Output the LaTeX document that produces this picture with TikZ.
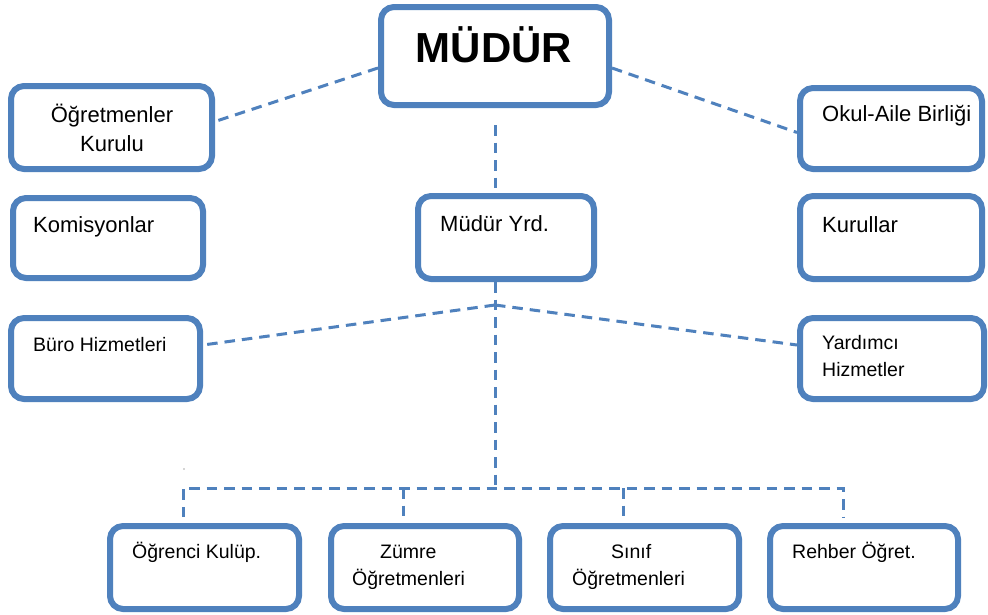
\documentclass[tikz,border=0pt]{standalone}
\usepackage{fontspec}
\setmainfont{Liberation Sans}
\usetikzlibrary{calc}
\definecolor{boxblue}{RGB}{79,129,189}
\begin{document}
\begin{tikzpicture}[x=1pt,y=-1pt,
  box/.style={draw=boxblue, line width=6pt, rounded corners=13pt, fill=white, inner sep=0pt, shape=rectangle},
  conn/.style={draw=boxblue, line width=3pt, dash pattern=on 10.5pt off 7pt},
  big/.style={font=\fontsize{22}{29}\selectfont, inner sep=0pt},
  small/.style={font=\fontsize{19.5}{27}\selectfont, inner sep=0pt}]
\useasboundingbox (0,0) rectangle (988,614);
\fill[white] (0,0) rectangle (988,614);

% boxes
\node[box, minimum width=228, minimum height=98] (mudur) at (495,56) {};
\node[box, minimum width=201, minimum height=83] (ogk) at (111.5,127.5) {};
\node[box, minimum width=182, minimum height=81] (oab) at (891,128.5) {};
\node[box, minimum width=190, minimum height=80] (kom) at (108,238) {};
\node[box, minimum width=176, minimum height=83] (myrd) at (506,237.5) {};
\node[box, minimum width=182, minimum height=83] (kur) at (891,237.5) {};
\node[box, minimum width=189, minimum height=81] (buro) at (105.5,358.5) {};
\node[box, minimum width=184, minimum height=81] (yard) at (892,358.5) {};
\node[box, minimum width=189, minimum height=83] (ogr) at (204.5,567.5) {};
\node[box, minimum width=188, minimum height=83] (zum) at (425,567.5) {};
\node[box, minimum width=189, minimum height=83] (sin) at (644.5,567.5) {};
\node[box, minimum width=188, minimum height=83] (reh) at (864,567.5) {};

% texts
\node[anchor=base, inner sep=0pt, font=\fontsize{42}{50}\selectfont\bfseries] (tmudur) at (494,62) {MÜDÜR};
\node[big, anchor=base] (togk1) at (112,122) {Öğretmenler};
\node[big, anchor=base] (togk2) at (112,151) {Kurulu};
\node[big, anchor=base west] (toab) at (822,121) {Okul-Aile Birliği};
\node[big, anchor=base west] (tkom) at (33,232) {Komisyonlar};
\node[big, anchor=base west] (tmyrd) at (440,231) {Müdür Yrd.};
\node[big, anchor=base west] (tkur) at (822,232) {Kurullar};
\node[small, anchor=base west] (tburo) at (33,351) {Büro Hizmetleri};
\node[small, anchor=base west] (tyard1) at (822,349) {Yardımcı};
\node[small, anchor=base west] (tyard2) at (822,376) {Hizmetler};
\node[small, anchor=base west] (togr) at (132,558) {Öğrenci Kulüp.};
\node[small, anchor=base west] (tzum1) at (380,558) {Zümre};
\node[small, anchor=base west] (tzum2) at (352,585) {Öğretmenleri};
\node[small, anchor=base west] (tsin1) at (611,558) {Sınıf};
\node[small, anchor=base west] (tsin2) at (572,585) {Öğretmenleri};
\node[small, anchor=base west] (treh) at (792,558) {Rehber Öğret.};

% connectors
\draw[conn] ($(mudur.west)+(0,12)$) -- ($(ogk.east)+(0,-6)$);
\draw[conn] ($(mudur.east)+(0,12)$) -- ($(oab.west)+(0,4)$);
\draw[conn] ($(mudur.south)+(0,17)$) -- (mudur.south |- myrd.north);
\draw[conn] ($(kom.east)+(0,-25)$) -- ($(kom.east)+(0,-25)$ -| myrd.west);
\draw[conn] ($(myrd.east)+(0,-25)$) -- ($(myrd.east)+(0,-25)$ -| kur.west);

\coordinate (j1) at (495,305);
\coordinate (j2) at (495,488);
\draw[conn] (j1 |- myrd.south) -- (j1) -- (j2);
\draw[conn] (j1) -- ($(buro.east)+(0,-13.5)$);
\draw[conn] (j1) -- ($(yard.west)+(0,-13.5)$);

\coordinate (t1) at ($(ogr.north)+(-21.5,-6)$);
\coordinate (t2) at ($(zum.north)+(-22,-6)$);
\coordinate (t3) at ($(sin.north)+(-21.5,-6)$);
\coordinate (t4) at ($(reh.north)+(-21,-6)$);
\draw[conn] (t1) -- (t1 |- j2) -- (t4 |- j2) -- (t4);
\draw[conn] (t2 |- j2) -- (t2);
\draw[conn] (t3 |- j2) -- (t3);

\fill[black!70] (184,469) circle (0.7);
\end{tikzpicture}
\end{document}
